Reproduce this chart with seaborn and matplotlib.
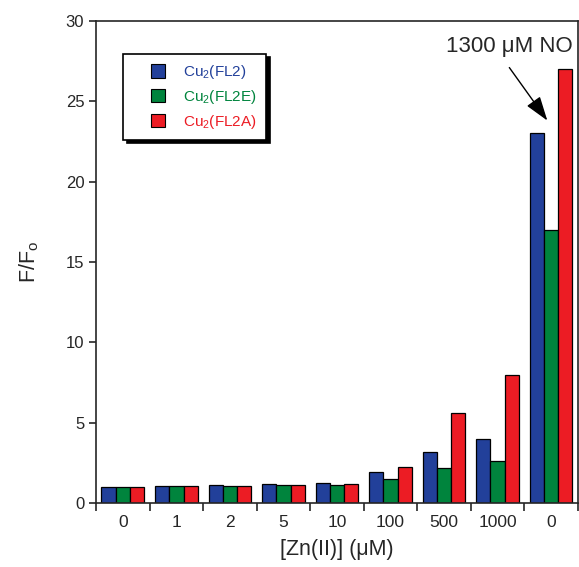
import numpy as np
import pandas as pd
import matplotlib
matplotlib.use("Agg")
import matplotlib.pyplot as plt
from matplotlib.patches import Patch, Rectangle
from matplotlib.legend_handler import HandlerPatch
import seaborn as sns

# --- data ---
conc_labels = ["0", "1", "2", "5", "10", "100", "500", "1000", "0"]
series = ["Cu$_2$(FL2)", "Cu$_2$(FL2E)", "Cu$_2$(FL2A)"]
fl2 = [1.0, 1.08, 1.12, 1.18, 1.24, 1.9, 3.2, 4.0, 23.0]
fl2e = [1.0, 1.04, 1.08, 1.12, 1.14, 1.5, 2.2, 2.6, 17.0]
fl2a = [1.0, 1.04, 1.08, 1.12, 1.18, 2.25, 5.6, 7.95, 27.0]
colors = ["#22409a", "#00843d", "#ec1c24"]

groups = list(range(len(conc_labels)))
df = pd.DataFrame({
    "group": groups * 3,
    "series": np.repeat(series, len(groups)),
    "ratio": fl2 + fl2e + fl2a,
})

sns.set_style("ticks")
plt.rcParams["font.family"] = ["Liberation Sans", "DejaVu Sans"]
plt.rcParams["mathtext.default"] = "regular"

fig = plt.figure(figsize=(5.79, 5.67), dpi=100)
ax = fig.add_axes([0.166, 0.113, 0.832, 0.850])

sns.barplot(data=df, x="group", y="ratio", hue="series", hue_order=series,
            palette=colors, width=0.8, edgecolor="black", linewidth=0.9,
            saturation=1, legend=False, ax=ax)

ax.set_xlim(-0.5, len(groups) - 0.5)
ax.set_ylim(0, 30)
ax.set_yticks(range(0, 31, 5))
ax.tick_params(axis="y", direction="out", length=5, width=1.2, labelsize=12)

# labels centred, tick marks on group boundaries
ax.set_xticks(groups)
ax.set_xticklabels(conc_labels)
ax.tick_params(axis="x", which="major", length=0, labelsize=12.5, pad=9)
ax.set_xticks(np.arange(-0.5, len(groups), 1.0), minor=True)
ax.tick_params(axis="x", which="minor", direction="out", length=6, width=1.2)

for s in ax.spines.values():
    s.set_linewidth(1.2)
    s.set_visible(True)

ax.set_xlabel("[Zn(II)] (\u03bcM)", fontsize=15.5, labelpad=6)
ax.set_ylabel("F/F$_o$", fontsize=15.5, labelpad=18)


# square legend keys sitting at the right end of a wide handle box
def square_key(legend, orig_handle, xdescent, ydescent, width, height, fontsize):
    s = height
    return Rectangle((width - s - xdescent, -ydescent), s, s)


handles = [Patch(facecolor=c, edgecolor="black", linewidth=0.8) for c in colors]
leg = ax.legend(handles, series, loc="upper left", bbox_to_anchor=(0.056, 0.932),
                frameon=True, fancybox=False, edgecolor="black", fontsize=11,
                handlelength=2.15, handleheight=1.0, handletextpad=1.2,
                borderpad=0.6, labelspacing=0.45, borderaxespad=0,
                shadow={"color": "black", "alpha": 1.0, "ox": 2.5, "oy": -2.5},
                handler_map={Patch: HandlerPatch(patch_func=square_key)})
leg.get_frame().set_linewidth(1.2)
for t, c in zip(leg.get_texts(), colors):
    t.set_color(c)

# arrow pointing at the NO-treated group
ax.annotate("", xy=(7.93, 23.8), xytext=(7.22, 27.1),
            arrowprops=dict(arrowstyle="-|>,head_length=0.75,head_width=0.25",
                            color="black", lw=1.0, mutation_scale=20,
                            shrinkA=0, shrinkB=0))
ax.text(8.4, 28.4, "1300 \u03bcM NO", fontsize=16, ha="right", va="center")

fig.savefig("out.png", dpi=100)
